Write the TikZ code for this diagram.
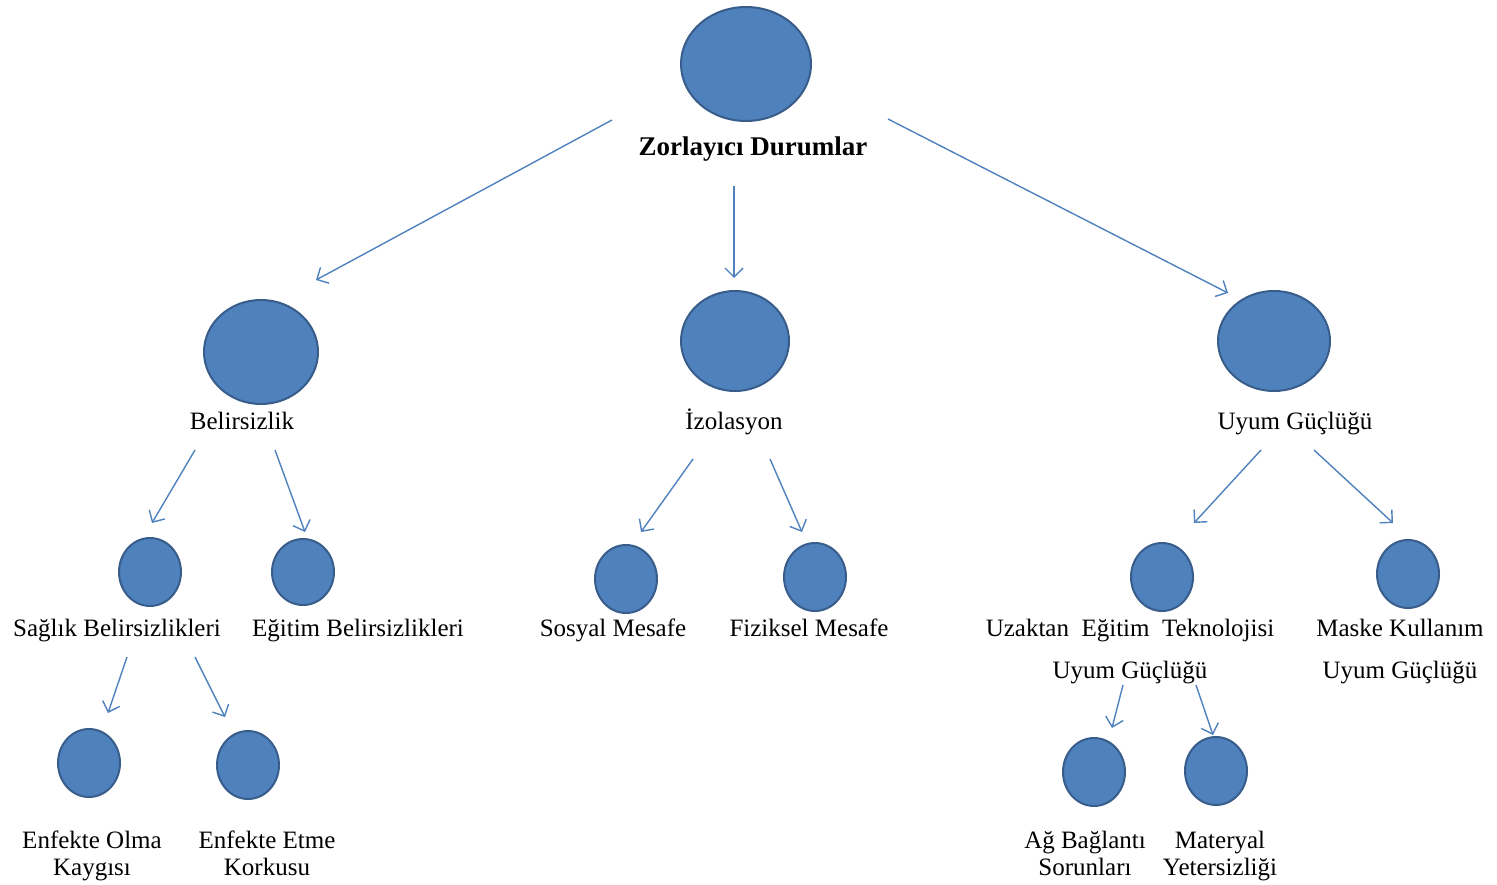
\documentclass[tikz,border=0pt]{standalone}
\usepackage{fontspec}
\setmainfont{Liberation Serif}
\usetikzlibrary{shapes.geometric,arrows.meta}
\definecolor{bubble}{HTML}{4F81BD}
\definecolor{bubbleedge}{HTML}{385D8A}
\definecolor{link}{HTML}{4F81BD}
\tikzset{
  blob/.style={ellipse, draw=bubbleedge, fill=bubble, line width=2pt, inner sep=0pt},
  lbl/.style={font=\fontsize{25}{27}\selectfont, inner sep=0pt, align=center},
  onelbl/.style={lbl, text height=22pt, text depth=4.5pt},
  arr/.style={draw=link, line width=1.4pt, -{Straight Barb[length=9pt,width=18pt,line width=1.4pt]}}
}
\begin{document}
\begin{tikzpicture}[x=1pt,y=-1pt]
\useasboundingbox (0,0) rectangle (1497,885);

% root
\node[blob, minimum width=130pt, minimum height=114pt] (root) at (746,64) {};
\node[onelbl, font=\fontsize{27}{29}\selectfont\bfseries] (rootL) at (753,147) {Zorlayıcı Durumlar};

% second level
\node[blob, minimum width=114pt, minimum height=104pt] (bel) at (261,352) {};
\node[onelbl] (belL) at (242,421) {Belirsizlik};
\node[blob, minimum width=108pt, minimum height=100pt] (izo) at (735,341) {};
\node[onelbl] (izoL) at (734,421) {İzolasyon};
\node[blob, minimum width=112pt, minimum height=100pt] (uyu) at (1274,341) {};
\node[onelbl] (uyuL) at (1295,421) {Uyum Güçlüğü};

% third level
\node[blob, minimum width=62pt, minimum height=68pt] (sag) at (150,572) {};
\node[onelbl] (sagL) at (117,628) {Sağlık Belirsizlikleri};
\node[blob, minimum width=62pt, minimum height=66pt] (egb) at (303,572) {};
\node[onelbl] (egbL) at (358,628) {Eğitim Belirsizlikleri};
\node[blob, minimum width=62pt, minimum height=68pt] (sos) at (626,579) {};
\node[onelbl] (sosL) at (613,628) {Sosyal Mesafe};
\node[blob, minimum width=62pt, minimum height=68pt] (fiz) at (815,577) {};
\node[onelbl] (fizL) at (809,628) {Fiziksel Mesafe};
\node[blob, minimum width=62pt, minimum height=68pt] (uza) at (1162,577) {};
\node[lbl, font=\fontsize{25}{42}\selectfont] (uzaL) at (1130,652) {Uzaktan\ \ Eğitim\ \ Teknolojisi\\Uyum Güçlüğü};
\node[blob, minimum width=62pt, minimum height=68pt] (mas) at (1408,574) {};
\node[lbl, font=\fontsize{25}{42}\selectfont] (masL) at (1400,652) {Maske Kullanım\\Uyum Güçlüğü};

% fourth level
\node[blob, minimum width=62pt, minimum height=68pt] (eol) at (89,763) {};
\node[lbl] (eolL) at (92,857) {\strut Enfekte Olma\\\strut Kaygısı};
\node[blob, minimum width=62pt, minimum height=68pt] (eet) at (248,765) {};
\node[lbl] (eetL) at (267,857) {\strut Enfekte Etme\\\strut Korkusu};
\node[blob, minimum width=62pt, minimum height=68pt] (agb) at (1094,772) {};
\node[lbl] (agbL) at (1085,857) {\strut Ağ Bağlantı\\\strut Sorunları};
\node[blob, minimum width=62pt, minimum height=68pt] (mat) at (1216,771) {};
\node[lbl] (matL) at (1220,857) {\strut Materyal\\\strut Yetersizliği};

% connectors
\draw[arr] ([shift={(-141,-27)}]rootL.center) -- ([shift={(55,-72)}]bel.center);
\draw[arr] ([shift={(-19,39)}]rootL.center) -- ([shift={(-1,-63)}]izo.center);
\draw[arr] ([shift={(135,-28)}]rootL.center) -- ([shift={(-46,-48)}]uyu.center);

\draw[arr] ([shift={(-47,29)}]belL.center) -- ([shift={(2,-49)}]sag.center);
\draw[arr] ([shift={(33,29)}]belL.center) -- ([shift={(2,-40)}]egb.center);
\draw[arr] ([shift={(-41,38)}]izoL.center) -- ([shift={(15,-47)}]sos.center);
\draw[arr] ([shift={(36,38)}]izoL.center) -- ([shift={(-13,-45)}]fiz.center);
\draw[arr] ([shift={(-34,29)}]uyuL.center) -- ([shift={(32,-54)}]uza.center);
\draw[arr] ([shift={(19,29)}]uyuL.center) -- ([shift={(-15,-51)}]mas.center);

\draw[arr] ([shift={(10,29)}]sagL.center) -- ([shift={(19,-50)}]eol.center);
\draw[arr] ([shift={(78,29)}]sagL.center) -- ([shift={(-23,-48)}]eet.center);
\draw[arr] ([shift={(-7,33)}]uzaL.center) -- ([shift={(18,-44)}]agb.center);
\draw[arr] ([shift={(66,33)}]uzaL.center) -- ([shift={(-3,-36)}]mat.center);
\end{tikzpicture}
\end{document}
